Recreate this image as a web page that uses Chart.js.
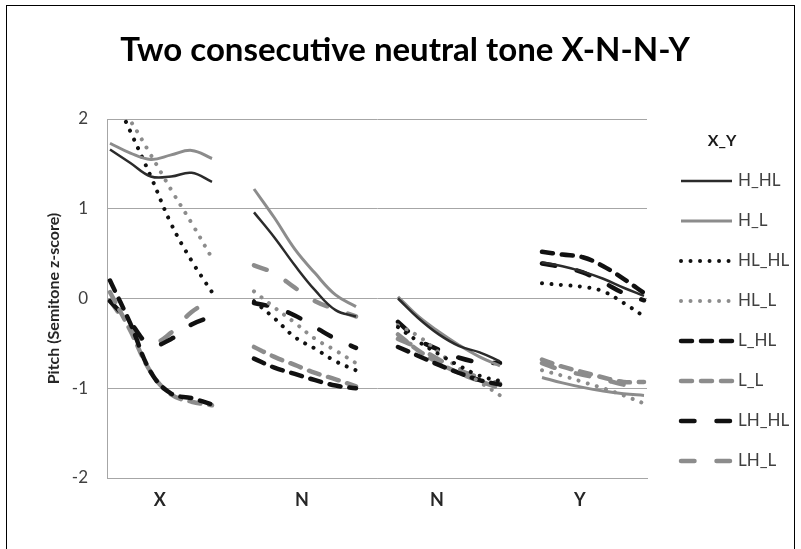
<!DOCTYPE html>
<html>
<head>
<meta charset="utf-8">
<script src="https://cdn.jsdelivr.net/npm/chart.js@4.4.0/dist/chart.umd.min.js"></script>
<style>
html, body { margin: 0; padding: 0; background: #fff; }
</style>
</head>
<body>
<canvas id="chart" width="801" height="549"></canvas>
<script>
// syllable labels and where they sit on the (0..89) sample axis
const syllables = ['X', 'N', 'N', 'Y'];
const labelPos = [8.3, 32, 54.5, 78.3];
const syllableStart = [0, 24, 48, 72];
const samplePos = [0, 3.4, 6.8, 10.2, 13.6, 17];
const yTicks = [-2, -1, 0, 1, 2];

const chartTitle = 'Two consecutive neutral tone X-N-N-Y';
const yTitle = 'Pitch (Semitone z-score)';
const legendTitle = 'X_Y';
const seriesNames = ['H_HL', 'H_L', 'HL_HL', 'HL_L', 'L_HL', 'L_L', 'LH_HL', 'LH_L'];

// values per syllable: X, N, N, Y
const H_HL = [
  [1.66, 1.51, 1.36, 1.36, 1.40, 1.30],
  [0.96, 0.68, 0.37, 0.09, -0.13, -0.20],
  [0.00, -0.22, -0.40, -0.53, -0.60, -0.70],
  [0.40, 0.36, 0.30, 0.22, 0.12, 0.03]
];
const H_L = [
  [1.73, 1.62, 1.55, 1.60, 1.65, 1.56],
  [1.22, 0.90, 0.55, 0.28, 0.04, -0.09],
  [0.02, -0.20, -0.37, -0.52, -0.65, -0.75],
  [-0.88, -0.94, -0.99, -1.03, -1.06, -1.08]
];
const HL_HL = [
  [2.35, 1.86, 1.36, 0.83, 0.42, 0.07],
  [-0.03, -0.22, -0.43, -0.56, -0.70, -0.80],
  [-0.32, -0.48, -0.62, -0.75, -0.86, -0.92],
  [0.17, 0.15, 0.13, 0.08, -0.05, -0.20]
];
const HL_L = [
  [2.30, 1.98, 1.60, 1.21, 0.84, 0.45],
  [0.08, -0.10, -0.27, -0.45, -0.58, -0.72],
  [-0.30, -0.42, -0.60, -0.78, -0.93, -1.08],
  [-0.80, -0.86, -0.93, -1.00, -1.08, -1.17]
];
const L_HL = [
  [0.20, -0.28, -0.82, -1.06, -1.11, -1.18],
  [-0.67, -0.77, -0.84, -0.91, -0.97, -1.00],
  [-0.54, -0.64, -0.74, -0.83, -0.91, -0.96],
  [0.52, 0.49, 0.46, 0.36, 0.22, 0.06]
];
const L_L = [
  [0.07, -0.36, -0.82, -1.07, -1.15, -1.19],
  [-0.54, -0.65, -0.74, -0.83, -0.90, -0.98],
  [-0.40, -0.58, -0.72, -0.83, -0.92, -1.00],
  [-0.68, -0.76, -0.82, -0.88, -0.93, -0.93]
];
const LH_HL = [
  [-0.03, -0.27, -0.52, -0.45, -0.29, -0.20],
  [-0.05, -0.10, -0.19, -0.32, -0.45, -0.55],
  [-0.26, -0.46, -0.57, -0.66, -0.71, -0.72],
  [0.39, 0.35, 0.29, 0.18, 0.06, -0.02]
];
const LH_L = [
  [-0.02, -0.33, -0.50, -0.38, -0.15, -0.02],
  [0.37, 0.28, 0.12, -0.03, -0.12, -0.20],
  [-0.45, -0.55, -0.68, -0.80, -0.88, -0.95],
  [-0.72, -0.80, -0.85, -0.90, -0.96, -0.98]
];
const seriesValues = [H_HL, H_L, HL_HL, HL_L, L_HL, L_L, LH_HL, LH_L];

const black = '#111111';
const gray = '#8c8c8c';
const styles = [
  {color: '#2b2b2b', width: 2.5, dash: [], cap: 'butt'},
  {color: gray, width: 3, dash: [], cap: 'butt'},
  {color: black, width: 4, dash: [0.01, 9.5], cap: 'round'},
  {color: gray, width: 4, dash: [0.01, 9.5], cap: 'round'},
  {color: black, width: 4.5, dash: [11, 9], cap: 'round'},
  {color: gray, width: 4.5, dash: [11, 9], cap: 'round'},
  {color: black, width: 4.5, dash: [13.5, 22], cap: 'round'},
  {color: gray, width: 4.5, dash: [13.5, 22], cap: 'round'}
];

// one point per sample, plus a null after each syllable so the line breaks
function toPoints(values) {
  let pts = [];
  values.forEach(function(syl, s) {
    syl.forEach(function(v, k) {
      pts.push({x: syllableStart[s] + samplePos[k], y: v});
    });
    pts.push({x: syllableStart[s] + 20, y: null});
  });
  return pts;
}

let datasets = seriesNames.map(function(name, i) {
  return {
    label: name,
    data: toPoints(seriesValues[i]),
    borderColor: styles[i].color,
    borderWidth: styles[i].width,
    borderDash: styles[i].dash,
    borderCapStyle: styles[i].cap,
    borderJoinStyle: 'round',
    pointRadius: 0,
    pointHoverRadius: 0,
    tension: 0.4,
    spanGaps: false,
    clip: 0
  };
});

const decor = {
  id: 'decor',
  beforeDraw(chart) {
    const ctx = chart.ctx;
    ctx.save();
    ctx.fillStyle = '#fff';
    ctx.fillRect(0, 0, chart.width, chart.height);
    ctx.strokeStyle = '#000';
    ctx.lineWidth = 1;
    ctx.strokeRect(6.5, 5.5, 788, 600);
    ctx.restore();
  },
  afterDraw(chart) {
    const ctx = chart.ctx;
    ctx.save();
    ctx.textBaseline = 'middle';
    ctx.textAlign = 'center';
    ctx.fillStyle = '#000';
    ctx.font = 'bold 33px Lato';
    ctx.fillText(chartTitle, 405, 50);

    ctx.font = 'bold 16px Lato';
    ctx.fillStyle = '#1a1a1a';
    ctx.fillText(legendTitle, 722, 141);

    chart.data.datasets.forEach(function(ds, i) {
      const y = 181 + i * 40;
      ctx.beginPath();
      ctx.strokeStyle = ds.borderColor;
      ctx.lineWidth = ds.borderWidth;
      ctx.lineCap = ds.borderCapStyle;
      ctx.setLineDash(ds.borderDash);
      ctx.moveTo(681, y);
      ctx.lineTo(732, y);
      ctx.stroke();
      ctx.setLineDash([]);
      ctx.font = '17px Lato';
      ctx.fillStyle = '#404040';
      ctx.textAlign = 'left';
      ctx.fillText(ds.label, 738, y);
    });
    ctx.restore();
  }
};

let chart = new Chart(document.getElementById('chart').getContext('2d'), {
  type: 'line',
  data: {datasets: datasets},
  options: {
    responsive: false,
    animation: false,
    devicePixelRatio: 1,
    layout: {padding: {top: 119, right: 154, bottom: 0, left: 0}},
    plugins: {
      legend: {display: false},
      title: {display: false},
      tooltip: {enabled: false}
    },
    scales: {
      x: {
        type: 'linear',
        min: -0.5,
        max: 89.5,
        afterBuildTicks: function(s) {
          s.ticks = labelPos.map(function(v) { return {value: v}; });
        },
        afterFit: function(s) { s.height = 71; },
        ticks: {
          autoSkip: false,
          maxRotation: 0,
          padding: 11,
          color: '#262626',
          font: {family: 'Lato', size: 18, weight: 'bold'},
          callback: function(v, i) { return syllables[i]; }
        },
        grid: {display: false, drawTicks: false},
        border: {display: true, color: '#a6a6a6', width: 1}
      },
      y: {
        min: yTicks[0],
        max: yTicks[yTicks.length - 1],
        afterBuildTicks: function(s) {
          s.ticks = yTicks.map(function(v) { return {value: v}; });
        },
        afterFit: function(s) { s.width = 107; },
        ticks: {
          padding: 19,
          color: '#404040',
          font: {family: 'Lato', size: 17}
        },
        grid: {color: '#a6a6a6', lineWidth: 1, drawTicks: false},
        border: {display: true, color: '#a6a6a6', width: 1},
        title: {
          display: true,
          text: yTitle,
          color: '#262626',
          font: {family: 'Lato', size: 16, weight: 'bold'},
          padding: {top: 44, bottom: 0}
        }
      }
    }
  },
  plugins: [decor]
});
</script>
</body>
</html>
